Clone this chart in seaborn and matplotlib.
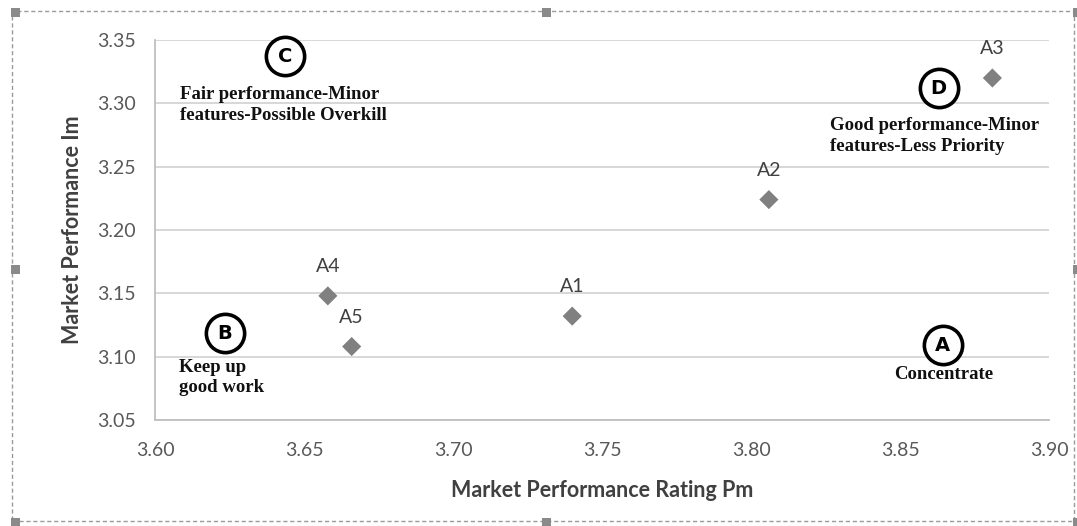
import matplotlib
matplotlib.use("Agg")
import matplotlib.pyplot as plt
from matplotlib.patches import Rectangle
import seaborn as sns
import pandas as pd

# Attribute scores
attributes = ["A1", "A2", "A3", "A4", "A5"]
rating_pm = [3.740, 3.806, 3.881, 3.658, 3.666]
performance_im = [3.132, 3.224, 3.320, 3.148, 3.108]

x_ticks = [3.60, 3.65, 3.70, 3.75, 3.80, 3.85, 3.90]
y_ticks = [3.05, 3.10, 3.15, 3.20, 3.25, 3.30, 3.35]

# Quadrant badges and their captions
quadrant_letters = ["C", "D", "B", "A"]
quadrant_captions = [
    "Fair performance-Minor\nfeatures-Possible Overkill",
    "Good performance-Minor\nfeatures-Less Priority",
    "Keep up\ngood work",
    "Concentrate",
]

# placement of the badges / captions (data coordinates)
badge_pos = [(3.6436, 3.337), (3.863, 3.312), (3.6235, 3.1185), (3.8644, 3.109)]
caption_pos = [(3.6084, 3.3135), (3.8265, 3.289), (3.608, 3.0985), (3.8648, 3.0930)]
caption_ha = ["left", "left", "left", "center"]

df = pd.DataFrame({"attr": attributes, "pm": rating_pm, "im": performance_im})

sns.set_style("white")
plt.rcParams["font.family"] = ["Lato", "DejaVu Sans"]

fig = plt.figure(figsize=(10.77, 5.26), dpi=100)
ax = fig.add_axes([155 / 1077, 1 - 420 / 526, (1049 - 155) / 1077, (420 - 40) / 526])

grid_c = "#d4d4d4"
axis_c = "#bfbfbf"
ax.set_axisbelow(True)
ax.yaxis.grid(True, color=grid_c, linewidth=1.3)
ax.xaxis.grid(False)

sns.scatterplot(data=df, x="pm", y="im", marker="D", s=95, color="#808080",
                edgecolor="none", ax=ax, zorder=3, legend=False)

for name, xv, yv in zip(attributes, rating_pm, performance_im):
    ax.annotate(name, (xv, yv), xytext=(0, 15), textcoords="offset points",
                ha="center", va="bottom", fontsize=14, color="#404040")

ax.set_xlim(3.60, 3.90)
ax.set_ylim(3.05, 3.35)
ax.set_xticks(x_ticks)
ax.set_yticks(y_ticks)
ax.set_xticklabels([f"{t:.2f}" for t in x_ticks])
ax.set_yticklabels([f"{t:.2f}" for t in y_ticks])
ax.tick_params(axis="both", colors="#595959", labelsize=14, length=6, width=1.2,
               direction="out", pad=8)
ax.tick_params(axis="x", pad=10)
ax.tick_params(axis="both", color=axis_c)

for side in ["top", "right"]:
    ax.spines[side].set_visible(False)
for side in ["left", "bottom"]:
    ax.spines[side].set_color(axis_c)
    ax.spines[side].set_linewidth(1.3)

ax.set_xlabel("Market Performance Rating Pm", fontsize=15.5, fontweight="bold",
              color="#404040", labelpad=15)
ax.set_ylabel("Market Performance Im", fontsize=15.5, fontweight="bold",
              color="#404040", labelpad=10)

# quadrant badges: circled letters with captions
for letter, (bx, by) in zip(quadrant_letters, badge_pos):
    ax.scatter([bx], [by], s=760, marker="o", facecolor="white", edgecolor="black",
               linewidth=2.6, zorder=4, clip_on=False)
    ax.text(bx, by, letter, ha="center", va="center", fontsize=14, fontweight="bold",
            color="black", zorder=5, family=["DejaVu Sans"])

for cap, (cx, cy), ha in zip(quadrant_captions, caption_pos, caption_ha):
    ax.text(cx, cy, cap, ha=ha, va="top", fontsize=13.5, fontweight="bold",
            color="#111111", family=["Liberation Serif"], linespacing=1.3, zorder=5)

# dashed selection frame with handles
W, H = 1077, 526
frame = Rectangle((12 / W, 1 - 521 / H), (1074 - 12) / W, (521 - 11) / H,
                  transform=fig.transFigure, fill=False, edgecolor="#9a9a9a",
                  linestyle=(0, (3, 2)), linewidth=1.0)
fig.add_artist(frame)
hs = 9
for hx, hy in [(12, 11), (543, 11), (1074, 11), (12, 268), (1074, 268),
               (12, 521), (543, 521), (1074, 521)]:
    fig.add_artist(Rectangle(((hx - 1) / W, 1 - (hy + hs - 3) / H), hs / W, hs / H,
                             transform=fig.transFigure, facecolor="#8a8a8a",
                             edgecolor="none"))

fig.savefig("out.png", dpi=100)
